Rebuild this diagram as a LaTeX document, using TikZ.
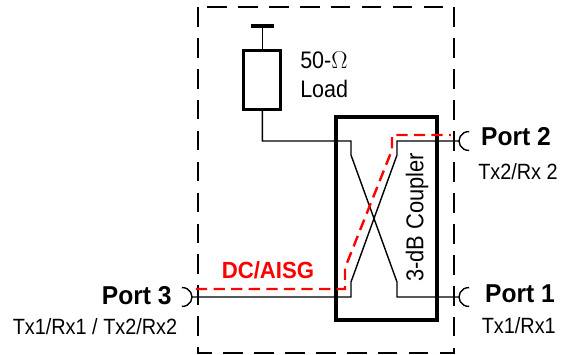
\documentclass[tikz,border=0pt]{standalone}
\usepackage{fontspec}
\setmainfont{Liberation Sans}
\newfontfamily\tallfont[FakeStretch=.9]{Liberation Sans}
\newfontfamily\tallbold[FakeStretch=.95]{Liberation Sans Bold}
\definecolor{dcred}{RGB}{255,0,0}
\begin{document}
\begin{tikzpicture}[
  portlabel/.style={font=\tallbold\fontsize{18.4}{20}\selectfont,inner sep=0pt},
  sublabel/.style={font=\tallfont\fontsize{15.7}{17}\selectfont,inner sep=0pt},
  loadlabel/.style={font=\tallfont\fontsize{17}{18}\selectfont,inner sep=0pt,anchor=west},
  loadbox/.style={draw,line width=2pt,minimum width=.925cm,minimum height=1.475cm},
  couplerbox/.style={draw,line width=2.4pt,minimum width=2.525cm,minimum height=5.075cm},
  wire/.style={draw,line width=1pt},
  housing/.style={draw,line width=1pt,dash pattern=on 14pt off 8pt},
  dcpath/.style={draw=dcred,line width=1.7pt,dash pattern=on 8pt off 4.5pt}
]
  \useasboundingbox (0,0) rectangle (14.1,8.85);
  % Housing
  \draw[housing] (4.95,8.675) rectangle (11.35,0.025);
  % Load and coupler
  \node[loadbox] (load) at (6.56,6.86) {};
  \node[couplerbox] (coupler) at (9.66,3.39) {};
  \node[rotate=90,inner sep=0pt,font=\tallfont\fontsize{17.3}{18}\selectfont] (couplertext) at (10.43,3.42) {3-dB Coupler};
  \node[loadlabel] (ohm) at (7.5,7.35) {50-$\Omega$};
  \node[loadlabel] (loadtext) at (7.5,6.62) {Load};
  % Ground bar
  \coordinate (gnd) at (6.56,8.2);
  \draw[line width=3.5pt] (6.275,8.2) -- (6.85,8.2);
  \draw[wire] (load.north) -- (gnd);
  % Ports
  \coordinate (p1) at (11.475,1.425);
  \coordinate (p2) at (11.475,5.325);
  \coordinate (p3) at (4.8,1.425);
  \draw[wire] (p1) arc[start angle=180,end angle=85,radius=.235];
  \draw[wire] (p1) arc[start angle=180,end angle=275,radius=.235];
  \draw[wire] (p2) arc[start angle=180,end angle=85,radius=.235];
  \draw[wire] (p2) arc[start angle=180,end angle=275,radius=.235];
  \draw[wire] (p3) arc[start angle=0,end angle=95,radius=.235];
  \draw[wire] (p3) arc[start angle=0,end angle=-95,radius=.235];
  % Crossed lines
  \draw[wire] (load.south) |- (8.775,5.325) -- (8.775,4.975) -- (9.925,1.8) -- (9.925,1.425) -- (p1);
  \draw[wire] (p2) -- (9.925,5.325) -- (9.925,4.975) -- (8.775,1.8) -- (8.775,1.425) -- (p3);
  % DC path
  \coordinate (dcin) at (4.9,1.625);
  \coordinate (dcout) at (11.275,5.475);
  \draw[dcpath] (dcin) -- (8.625,1.625) -- (8.625,2.15) -- (9.8,5.1) -- (9.8,5.475) -- (dcout);
  \node[inner sep=0pt,text=dcred,font=\tallbold\fontsize{16.6}{18}\selectfont] (dctext) at (6.7,2.1) {DC/AISG};
  % Labels
  \node[portlabel] (port2) at (12.9,5.425) {Port 2};
  \node[sublabel] (tx2) at (12.95,4.55) {Tx2/Rx 2};
  \node[portlabel] (port3) at (3.42,1.45) {Port 3};
  \node[sublabel] (tx3) at (2.375,0.68) {Tx1/Rx1 / Tx2/Rx2};
  \node[portlabel] (port1) at (13,1.5) {Port 1};
  \node[sublabel] (tx1) at (12.97,0.72) {Tx1/Rx1};
\end{tikzpicture}
\end{document}
